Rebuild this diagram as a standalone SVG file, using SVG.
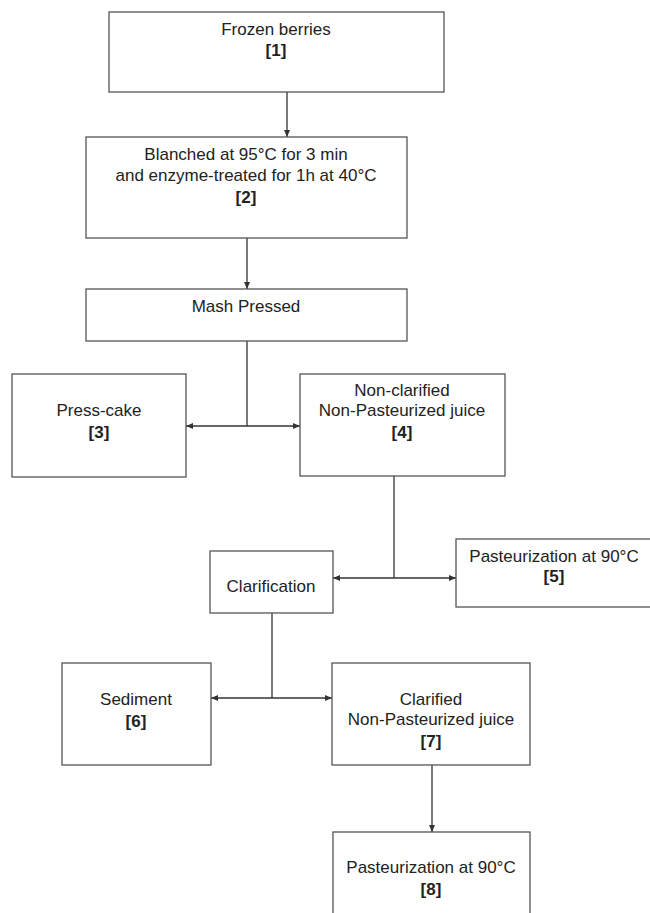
<svg xmlns="http://www.w3.org/2000/svg" width="650" height="913" viewBox="0 0 650 913">
<defs>
<marker id="ah" markerWidth="7" markerHeight="6" refX="7" refY="3" orient="auto" markerUnits="userSpaceOnUse">
<path d="M0,0 L7,3 L0,6 Z" fill="#333"/>
</marker>
<style>
.box{fill:#fff;stroke:#555;stroke-width:1.3}
.t{font-family:"Liberation Sans",Arial,sans-serif;font-size:17px;fill:#222;text-anchor:middle}
.b{font-weight:bold}
.ln{fill:none;stroke:#333;stroke-width:1.3}
.ar{fill:none;stroke:#333;stroke-width:1.3;marker-end:url(#ah)}
</style>
</defs>
<rect width="650" height="913" fill="#fff"/>
<g id="connectors">
<line class="ar" x1="287" y1="92" x2="287" y2="137"/>
<line class="ar" x1="247" y1="238" x2="247" y2="289"/>
<line class="ln" x1="247" y1="341" x2="247" y2="426"/>
<line class="ar" x1="247" y1="426" x2="186" y2="426"/>
<line class="ar" x1="247" y1="426" x2="300" y2="426"/>
<line class="ln" x1="394" y1="476" x2="394" y2="578"/>
<line class="ar" x1="394" y1="578" x2="333" y2="578"/>
<line class="ar" x1="394" y1="578" x2="456" y2="578"/>
<line class="ln" x1="272" y1="613" x2="272" y2="698"/>
<line class="ar" x1="272" y1="698" x2="211" y2="698"/>
<line class="ar" x1="272" y1="698" x2="332" y2="698"/>
<line class="ar" x1="432" y1="765" x2="432" y2="832"/>
</g>
<g id="n1">
<rect class="box" x="109" y="12" width="335" height="80"/>
<text class="t" x="276" y="35">Frozen berries</text>
<text class="t b" x="276" y="56">[1]</text>
</g>
<g id="n2">
<rect class="box" x="86" y="137" width="321" height="101"/>
<text class="t" x="246" y="160">Blanched at 95°C for 3 min</text>
<text class="t" x="246" y="181">and enzyme-treated for 1h at 40°C</text>
<text class="t b" x="246" y="203">[2]</text>
</g>
<g id="mash">
<rect class="box" x="86" y="289" width="321" height="52"/>
<text class="t" x="246" y="312">Mash Pressed</text>
</g>
<g id="n3">
<rect class="box" x="12" y="374" width="174" height="103"/>
<text class="t" x="99" y="416">Press-cake</text>
<text class="t b" x="99" y="438">[3]</text>
</g>
<g id="n4">
<rect class="box" x="300" y="374" width="205" height="102"/>
<text class="t" x="402" y="396">Non-clarified</text>
<text class="t" x="402" y="416">Non-Pasteurized juice</text>
<text class="t b" x="402" y="438">[4]</text>
</g>
<g id="clar">
<rect class="box" x="210" y="551" width="123" height="62"/>
<text class="t" x="271" y="592">Clarification</text>
</g>
<g id="n5">
<rect class="box" x="456" y="539" width="200" height="68"/>
<text class="t" x="554" y="562">Pasteurization at 90°C</text>
<text class="t b" x="554" y="582">[5]</text>
</g>
<g id="n6">
<rect class="box" x="62" y="663" width="149" height="102"/>
<text class="t" x="136" y="705">Sediment</text>
<text class="t b" x="136" y="727">[6]</text>
</g>
<g id="n7">
<rect class="box" x="332" y="663" width="198" height="102"/>
<text class="t" x="431" y="705">Clarified</text>
<text class="t" x="431" y="725">Non-Pasteurized juice</text>
<text class="t b" x="431" y="747">[7]</text>
</g>
<g id="n8">
<rect class="box" x="333" y="832" width="197" height="100"/>
<text class="t" x="431" y="873">Pasteurization at 90°C</text>
<text class="t b" x="431" y="895">[8]</text>
</g>
</svg>
